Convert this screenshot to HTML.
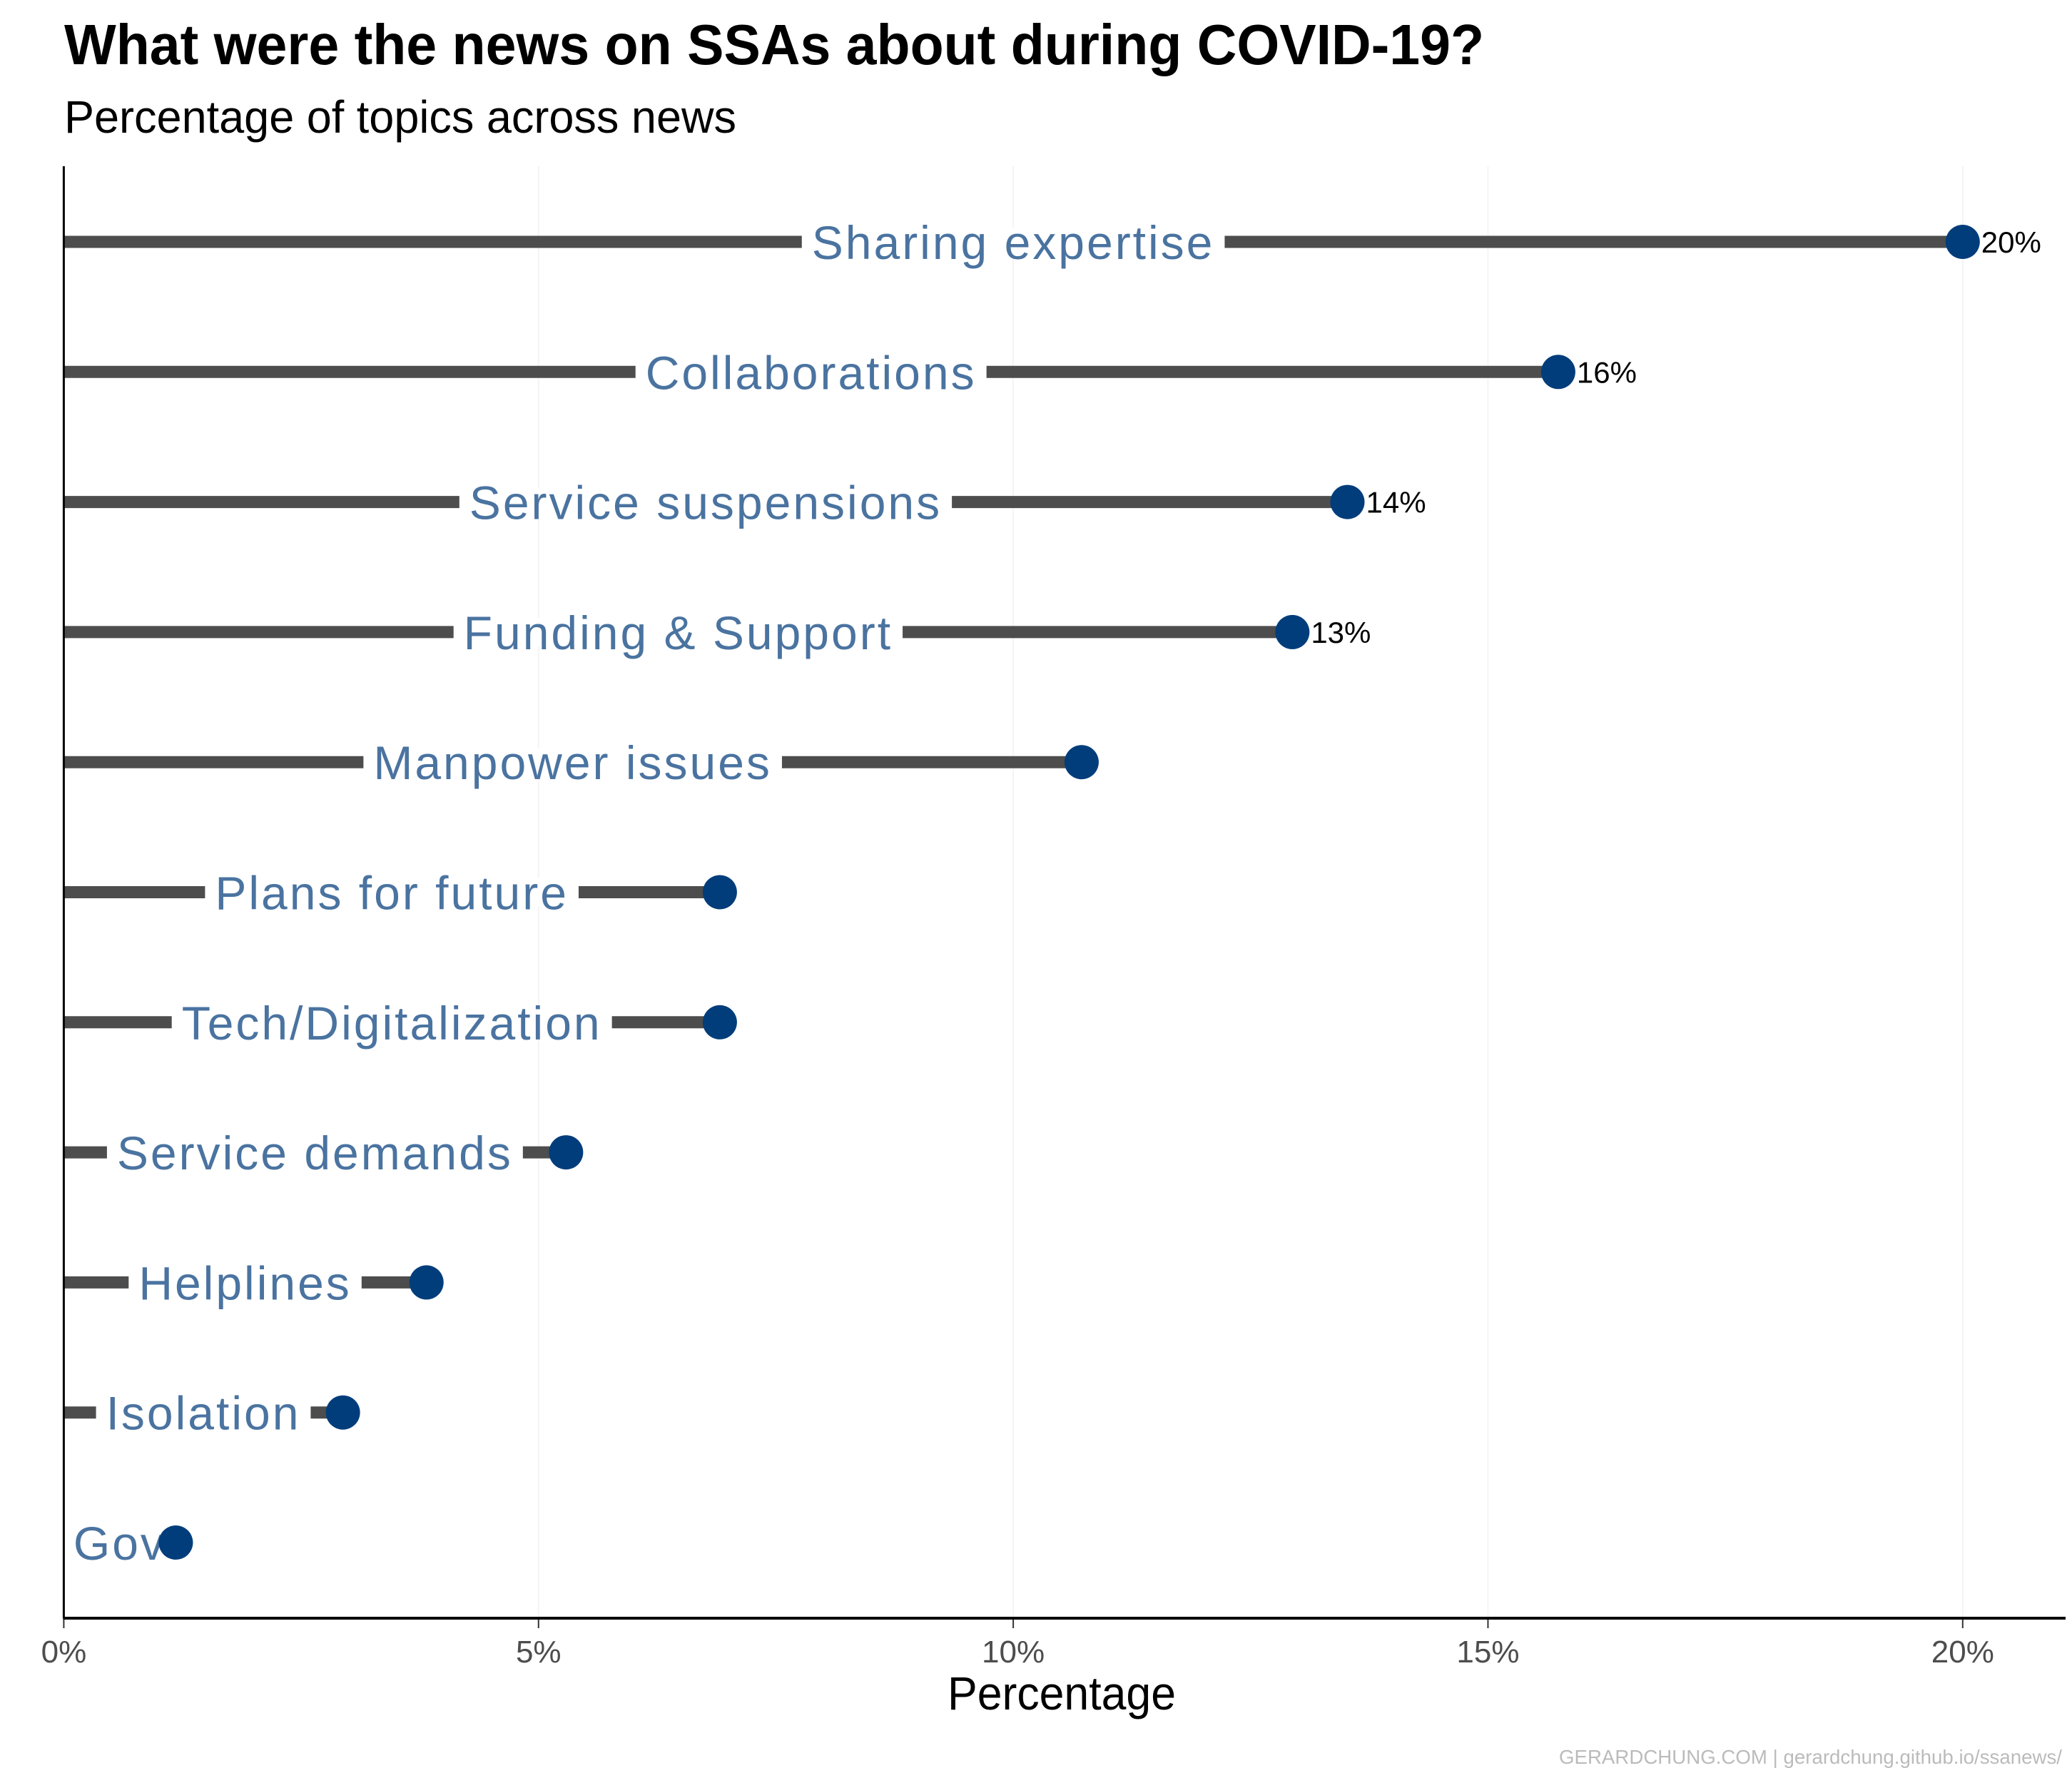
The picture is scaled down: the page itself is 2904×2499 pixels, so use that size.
<!DOCTYPE html>
<html><head><meta charset="utf-8"><style>
html,body{margin:0;padding:0;background:#fff;}
svg{display:block;}
text{font-family:"Liberation Sans",sans-serif;}
</style></head><body>
<svg id="chart" width="2904" height="2499" viewBox="0 0 2904 2499" xmlns="http://www.w3.org/2000/svg">
<rect width="2904" height="2499" fill="#fff"/>
<text x="90" y="90" font-size="80" font-weight="bold" fill="#000" textLength="1990" lengthAdjust="spacingAndGlyphs">What were the news on SSAs about during COVID-19?</text>
<text x="90" y="186" font-size="64" fill="#000" textLength="942" lengthAdjust="spacingAndGlyphs">Percentage of topics across news</text>
<g id="grid"></g>
<g id="marks"></g>
<g id="axis"></g>
<text x="1488" y="2396" font-size="66" fill="#000" text-anchor="middle" textLength="320" lengthAdjust="spacingAndGlyphs">Percentage</text>
<text x="2890" y="2472" font-size="28" fill="#bbbbbb" text-anchor="end" textLength="705" lengthAdjust="spacingAndGlyphs">GERARDCHUNG.COM  |  gerardchung.github.io/ssanews/</text>
</svg>
<script>
const categories = ["Sharing expertise","Collaborations","Service suspensions","Funding & Support","Manpower issues","Plans for future","Tech/Digitalization","Service demands","Helplines","Isolation","Gov"];
const values = [20.0,15.74,13.52,12.94,10.72,6.91,6.91,5.29,3.82,2.94,1.18];
const valueLabels = ["20%","16%","14%","13%","","","","","","",""];
const tickValues = [0,5,10,15,20];
const tickLabels = ["0%","5%","10%","15%","20%"];

const NS="http://www.w3.org/2000/svg";
const X0=89.4, PX=133.07, Y0=339, DY=182.3, AXY=2268, TOP=233, RIGHT=2895;
const xs=v=>X0+v*PX;
const ys=i=>Y0+i*DY;
function mk(tag,attrs,parent){const e=document.createElementNS(NS,tag);for(const k in attrs)e.setAttribute(k,attrs[k]);parent.appendChild(e);return e;}
const grid=document.getElementById('grid'), marks=document.getElementById('marks'), axis=document.getElementById('axis');

tickValues.forEach((t,i)=>{
  if(t>0){const g=mk('line',{x1:xs(t),x2:xs(t),y1:TOP,y2:AXY,stroke:'#f4f4f4','stroke-width':2},grid);
  
  }
  const tk=mk('line',{x1:xs(t),x2:xs(t),y1:AXY,y2:AXY+14,stroke:'#333','stroke-width':2},axis);
  
  
  const tl=mk('text',{x:xs(t),y:2330,'font-size':44,fill:'#4d4d4d','text-anchor':'middle'},axis);
  tl.textContent=tickLabels[i];
  
  
});
const yl=mk('line',{x1:X0,x2:X0,y1:TOP,y2:AXY,stroke:'#000','stroke-width':3},axis);


const xl=mk('line',{x1:X0-1,x2:RIGHT,y1:AXY,y2:AXY,stroke:'#000','stroke-width':4},axis);



categories.forEach((c,i)=>{
  const y=ys(i), v=values[i];
  const seg=mk('line',{x1:X0,x2:xs(v),y1:y,y2:y,stroke:'#4d4d4d','stroke-width':17},marks);
  
  
  const bg=mk('rect',{fill:'#fff'},marks);
  
  
  const t=mk('text',{x:xs(v/2),y:y+24,'font-size':66,fill:'#4a73a0','text-anchor':'middle','letter-spacing':3},marks);
  t.textContent=c;
  
  
  const b=t.getBBox();
  bg.setAttribute('x',b.x-14);bg.setAttribute('y',y-20);bg.setAttribute('width',b.width+28);bg.setAttribute('height',40);
  const d=mk('circle',{cx:xs(v),cy:y,r:24,fill:'#023d7b'},marks);
  
  
  if(valueLabels[i]){
    const vl=mk('text',{x:xs(v)+26,y:y+15,'font-size':42,fill:'#000'},marks);
    vl.textContent=valueLabels[i];
    
    
  }
});
</script>
</body></html>
